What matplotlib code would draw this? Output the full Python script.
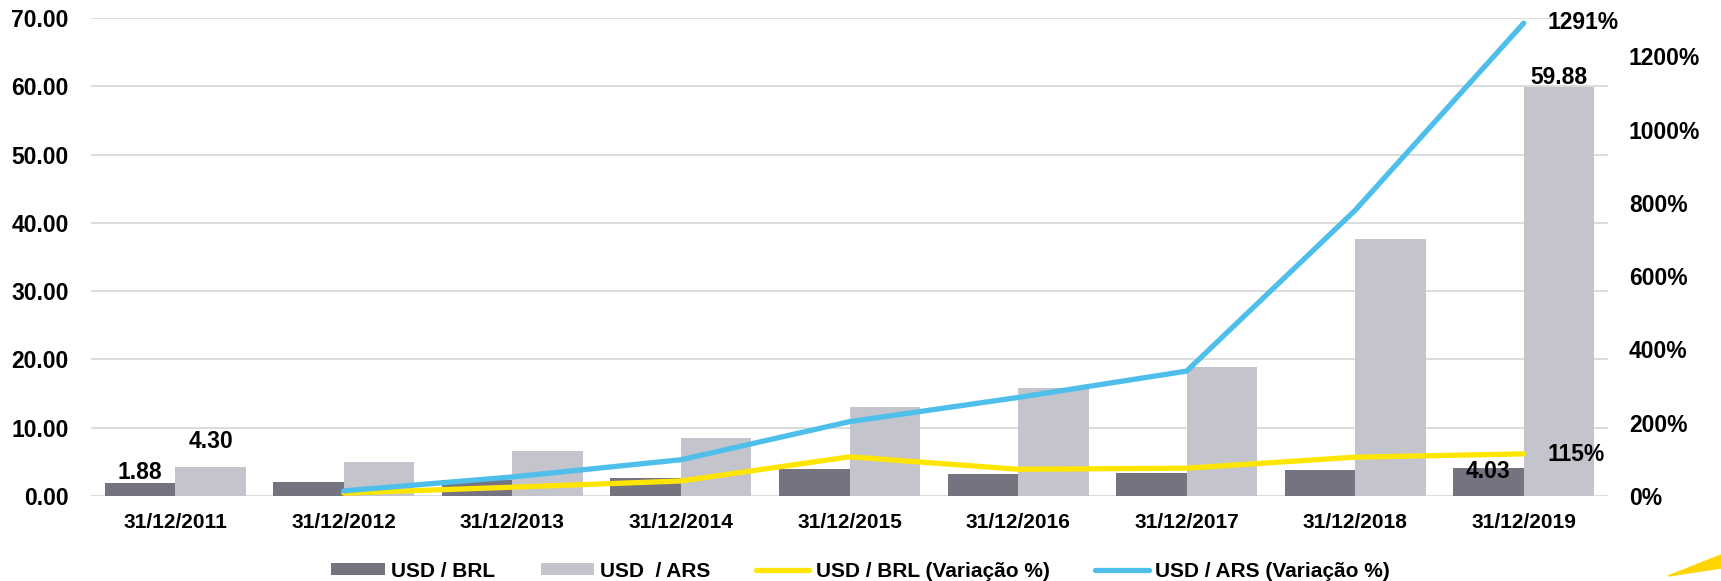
import matplotlib.pyplot as plt
import numpy as np
from matplotlib.patches import Polygon

# --- DATA ---
dates = ['31/12/2011', '31/12/2012', '31/12/2013', '31/12/2014', '31/12/2015',
         '31/12/2016', '31/12/2017', '31/12/2018', '31/12/2019']
usd_brl = [1.88, 2.04, 2.34, 2.66, 3.90, 3.26, 3.31, 3.87, 4.03]
usd_ars = [4.30, 4.92, 6.52, 8.55, 13.00, 15.85, 18.84, 37.70, 59.88]
# variation vs 31/12/2011 (starts in 2012)
var_dates = dates[1:]
var_brl = [8, 24, 41, 107, 73, 76, 106, 115]
var_ars = [14, 52, 99, 203, 269, 341, 780, 1291]

left_ticks = [0, 10, 20, 30, 40, 50, 60, 70]
right_ticks = [0, 200, 400, 600, 800, 1000, 1200]

# --- STYLE ---
DARK = '#747480'
LIGHT = '#C4C4CD'
YELLOW = '#FFE600'
BLUE = '#4EBEEB'
GRID = '#D9D9D9'
plt.rcParams['font.family'] = ['Liberation Sans', 'DejaVu Sans']
plt.rcParams['font.weight'] = 'bold'

fig = plt.figure(figsize=(17.21, 5.81), dpi=100)
ax = fig.add_axes([91 / 1721, 85 / 581, 1517 / 1721, 478 / 581])
ax2 = ax.twinx()

x = np.arange(len(dates))
w = 0.418
b1 = ax.bar(x - w / 2, usd_brl, w, color=DARK, label='USD / BRL', zorder=2)
b2 = ax.bar(x + w / 2, usd_ars, w, color=LIGHT, label='USD  / ARS', zorder=2)

xv = np.array([dates.index(d) for d in var_dates])
l1, = ax2.plot(xv, var_brl, color=YELLOW, lw=3.8, solid_capstyle='round',
               label='USD / BRL (Variação %)')
l2, = ax2.plot(xv, var_ars, color=BLUE, lw=3.8, solid_capstyle='round',
               label='USD / ARS (Variação %)')

ax.set_xlim(-0.5, len(dates) - 0.5)
ax.set_ylim(0, 70)
ax2.set_ylim(0, 1305)

ax.set_yticks(left_ticks)
ax.set_yticklabels([f'{v:.2f}' for v in left_ticks])
ax2.set_yticks(right_ticks)
ax2.set_yticklabels([f'{v}%' for v in right_ticks])
ax.set_xticks(x)
ax.set_xticklabels(dates)

ax.grid(axis='y', color=GRID, lw=1.3, zorder=0)
ax.set_axisbelow(True)
for a in (ax, ax2):
    for s in a.spines.values():
        s.set_visible(False)
    a.tick_params(length=0)
ax.tick_params(axis='y', labelsize=16.5, pad=16)
ax.tick_params(axis='x', labelsize=15, pad=12)
ax2.tick_params(axis='y', labelsize=16.5, pad=15)

# data labels
lab_kw = dict(textcoords='offset pixels', ha='center', va='center',
              fontsize=16.5, fontweight='bold', color='black')
ax.annotate(f'{usd_brl[0]:.2f}', (x[0] - w / 2, usd_brl[0]), xytext=(0, 11), **lab_kw)
ax.annotate(f'{usd_ars[0]:.2f}', (x[0] + w / 2, usd_ars[0]), xytext=(0, 25), **lab_kw)
ax.annotate(f'{usd_ars[-1]:.2f}', (x[-1] + w / 2, usd_ars[-1]), xytext=(0, 10), **lab_kw)
ax.annotate(f'{usd_brl[-1]:.2f}', (x[-1] - w / 2, usd_brl[-1]), xytext=(0, -3), **lab_kw)
ax2.annotate(f'{var_brl[-1]}%', (xv[-1], var_brl[-1]), xytext=(24, -1),
             textcoords='offset pixels', ha='left', va='center', fontsize=16.5, fontweight='bold')
ax2.annotate(f'{var_ars[-1]}%', (xv[-1], var_ars[-1]), xytext=(24, 1),
             textcoords='offset pixels', ha='left', va='center', fontsize=16.5, fontweight='bold')

fig.legend(handles=[b1, b2, l1, l2], loc='center', bbox_to_anchor=(0.5, 0.017),
           ncol=4, frameon=False, fontsize=15, handlelength=2.55, handleheight=0.5,
           handletextpad=0.3, columnspacing=2.2, borderaxespad=0, borderpad=0)

# decorative yellow wedge in the corner
wedge = Polygon([(1668 / 1721, 1 - 576 / 581), (1.0, 1 - 555 / 581), (1.0, 1 - 568 / 581)],
                closed=True, transform=fig.transFigure, color='#FFD500', clip_on=False)
fig.patches.append(wedge)

fig.savefig('out.png', dpi=100)
